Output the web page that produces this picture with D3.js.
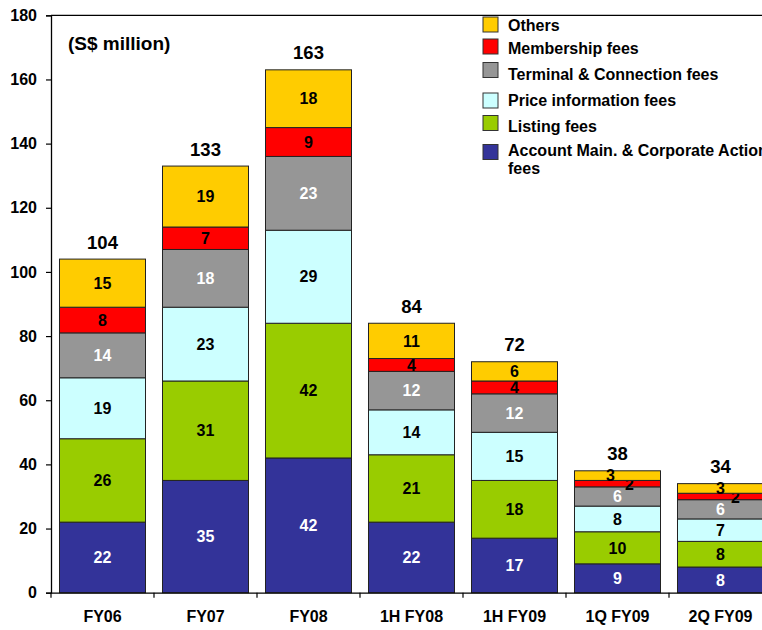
<!DOCTYPE html>
<html>
<head>
<meta charset="utf-8">
<script src="https://cdn.jsdelivr.net/npm/d3@7"></script>
<style>
  html, body { margin: 0; padding: 0; background: #fff; }
  svg { display: block; }
  text { font-family: "Liberation Sans", Arial, Helvetica, sans-serif; font-weight: bold; }
</style>
</head>
<body>
<svg id="chart" width="762" height="630"></svg>
<script>
// Periods along the x axis
const periods = ["FY06", "FY07", "FY08", "1H FY08", "1H FY09", "1Q FY09", "2Q FY09"];

// Revenue components (S$ million), stacked bottom to top
const accountFees     = [22, 35, 42, 22, 17, 9, 8];
const listingFees     = [26, 31, 42, 21, 18, 10, 8];
const priceInfoFees   = [19, 23, 29, 14, 15, 8, 7];
const terminalFees    = [14, 18, 23, 12, 12, 6, 6];
const membershipFees  = [8, 7, 9, 4, 4, 2, 2];
const otherFees       = [15, 19, 18, 11, 6, 3, 3];

// Period totals shown above each column
const totals = [104, 133, 163, 84, 72, 38, 34];

// Y axis tick values
const yTicks = [0, 20, 40, 60, 80, 100, 120, 140, 160, 180];

const seriesNames = [
  "Account Main. & Corporate Action fees",
  "Listing fees",
  "Price information fees",
  "Terminal & Connection fees",
  "Membership fees",
  "Others"
];
const seriesValues = [accountFees, listingFees, priceInfoFees, terminalFees, membershipFees, otherFees];
const seriesKeys = ["account", "listing", "price", "terminal", "membership", "others"];

const colors = {
  account: "#333399",
  listing: "#99CC00",
  price: "#CCFFFF",
  terminal: "#969696",
  membership: "#FF0000",
  others: "#FFCC00"
};
const labelColors = {
  account: "#ffffff",
  listing: "#000000",
  price: "#000000",
  terminal: "#ffffff",
  membership: "#000000",
  others: "#000000"
};

// Small segments whose labels are nudged sideways so they do not collide
const labelNudge = {
  "1Q FY09|others": -7,
  "1Q FY09|membership": 12,
  "2Q FY09|membership": 15
};

// Build a table for d3.stack
const table = periods.map((p, i) => {
  const row = { period: p };
  seriesKeys.forEach((k, j) => { row[k] = seriesValues[j][i]; });
  return row;
});

const svg = d3.select("#chart");

const plotLeft = 51, plotTop = 15.3, plotBottom = 592.7, plotRight = 772;

const x = d3.scaleBand()
  .domain(periods)
  .range([plotLeft, plotRight])
  .paddingInner(0.165)
  .paddingOuter(0.0825);

const y = d3.scaleLinear()
  .domain([0, 180])
  .range([plotBottom, plotTop]);

const stacked = d3.stack().keys(seriesKeys)(table);

// Plot frame: top border
svg.append("line")
  .attr("x1", plotLeft).attr("x2", plotRight)
  .attr("y1", y(180)).attr("y2", y(180))
  .attr("stroke", "#000").attr("stroke-width", 1.3);

// Stacked bars
const layers = svg.append("g").selectAll("g")
  .data(stacked)
  .join("g")
  .attr("fill", d => colors[d.key]);

layers.selectAll("rect")
  .data(d => d.map(s => ({ key: d.key, s })))
  .join("rect")
  .attr("x", d => x(d.s.data.period))
  .attr("y", d => y(d.s[1]))
  .attr("width", x.bandwidth())
  .attr("height", d => y(d.s[0]) - y(d.s[1]))
  .attr("stroke", "#222")
  .attr("stroke-width", 1);

// Segment value labels
layers.selectAll("text")
  .data(d => d.map(s => ({ key: d.key, s })))
  .join("text")
  .attr("x", d => x(d.s.data.period) + x.bandwidth() / 2 + (labelNudge[d.s.data.period + "|" + d.key] || 0))
  .attr("y", d => {
    const cy = (y(d.s[0]) + y(d.s[1])) / 2;
    const extra = labelNudge[d.s.data.period + "|" + d.key] > 0 ? 1 : 0;
    return cy + extra;
  })
  .attr("dy", "0.36em")
  .attr("text-anchor", "middle")
  .attr("font-size", 16)
  .attr("fill", d => labelColors[d.key])
  .text(d => d.s[1] - d.s[0]);

// Totals above columns
svg.append("g").selectAll("text")
  .data(periods)
  .join("text")
  .attr("x", p => x(p) + x.bandwidth() / 2)
  .attr("y", (p, i) => y(totals[i]) - 10.5)
  .attr("text-anchor", "middle")
  .attr("font-size", 18.5)
  .attr("fill", "#000")
  .text((p, i) => totals[i]);

// Y axis
const yAxis = svg.append("g")
  .attr("transform", `translate(${plotLeft},0)`)
  .call(d3.axisLeft(y).tickValues(yTicks).tickSize(5).tickPadding(9).tickFormat(d3.format("d")));
yAxis.select(".domain").attr("stroke", "#000").attr("stroke-width", 1.3);
yAxis.selectAll(".tick line").attr("stroke", "#000").attr("stroke-width", 1.2);
yAxis.selectAll(".tick text")
  .attr("font-size", 16)
  .attr("font-family", "'Liberation Sans', Arial, sans-serif")
  .attr("font-weight", "bold")
  .attr("fill", "#000");

// X axis: baseline, category boundary ticks and labels
const xAxis = svg.append("g")
  .attr("transform", `translate(0,${plotBottom})`)
  .call(d3.axisBottom(x).tickSize(0).tickPadding(18));
xAxis.select(".domain").attr("stroke", "#000").attr("stroke-width", 1.3);
xAxis.selectAll(".tick text")
  .attr("font-size", 16)
  .attr("font-family", "'Liberation Sans', Arial, sans-serif")
  .attr("font-weight", "bold")
  .attr("fill", "#000");
xAxis.append("g").selectAll("line")
  .data(d3.range(periods.length + 1))
  .join("line")
  .attr("x1", i => plotLeft + i * x.step())
  .attr("x2", i => plotLeft + i * x.step())
  .attr("y1", 0).attr("y2", 5)
  .attr("stroke", "#000").attr("stroke-width", 1.2);

// Unit caption
svg.append("text")
  .attr("x", 68).attr("y", 50)
  .attr("font-size", 19)
  .attr("fill", "#000")
  .text("(S$ million)");

// Legend (top series first)
const legendRows = [
  { key: "others",     lines: [seriesNames[5]], sy: 24.5, ty: 25 },
  { key: "membership", lines: [seriesNames[4]], sy: 46.5, ty: 48 },
  { key: "terminal",   lines: [seriesNames[3]], sy: 70,   ty: 74 },
  { key: "price",      lines: [seriesNames[2]], sy: 100.5, ty: 100 },
  { key: "listing",    lines: [seriesNames[1]], sy: 123,  ty: 126 },
  { key: "account",    lines: ["Account Main. & Corporate Action", "fees"], sy: 152, ty: 150 }
];
const legend = svg.append("g");
legendRows.forEach(r => {
  legend.append("rect")
    .attr("x", 483).attr("y", r.sy - 7.5)
    .attr("width", 15).attr("height", 15)
    .attr("fill", colors[r.key])
    .attr("stroke", "#333").attr("stroke-width", 1);
  r.lines.forEach((ln, k) => {
    legend.append("text")
      .attr("x", 508).attr("y", r.ty + k * 18)
      .attr("dy", "0.36em")
      .attr("font-size", 16)
      .attr("fill", "#000")
      .text(ln);
  });
});
</script>
</body>
</html>
